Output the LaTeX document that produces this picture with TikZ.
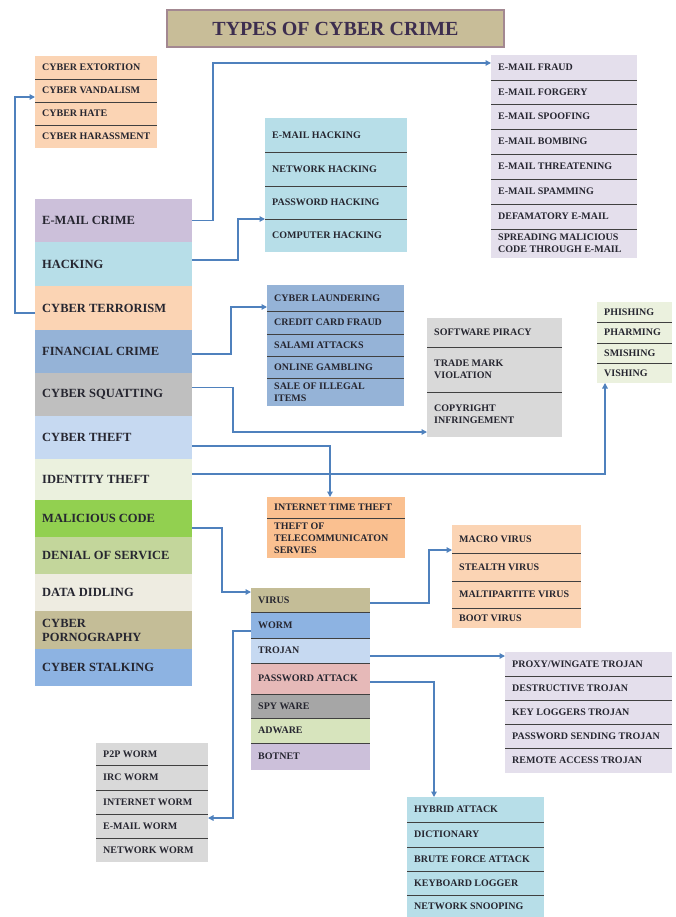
\documentclass[tikz,border=0pt]{standalone}
\usepackage{fontspec}
\setmainfont{Liberation Serif}
\usetikzlibrary{arrows.meta,calc}
\definecolor{txt}{HTML}{262630}
\definecolor{titlefill}{HTML}{C8BD98}
\definecolor{titledraw}{HTML}{A38891}
\definecolor{titletext}{HTML}{3D2E4F}
\definecolor{peach}{HTML}{FBD4B4}
\definecolor{lav}{HTML}{CCC0DA}
\definecolor{aqua}{HTML}{B7DEE8}
\definecolor{blueA}{HTML}{95B3D7}
\definecolor{grayA}{HTML}{BFBFBF}
\definecolor{lblue}{HTML}{C6D9F1}
\definecolor{lgreen}{HTML}{EBF1DE}
\definecolor{greenA}{HTML}{92D050}
\definecolor{olive}{HTML}{C3D69B}
\definecolor{beige}{HTML}{EEECE1}
\definecolor{tan}{HTML}{C4BD97}
\definecolor{blueB}{HTML}{8DB3E2}
\definecolor{lavB}{HTML}{E4DFEC}
\definecolor{grayB}{HTML}{D9D9D9}
\definecolor{orangeA}{HTML}{FAC090}
\definecolor{pinkA}{HTML}{E6B9B8}
\definecolor{grayC}{HTML}{A6A6A6}
\definecolor{greenB}{HTML}{D7E4BD}
\definecolor{arrowc}{HTML}{4F81BD}
\definecolor{sepc}{HTML}{404040}
\tikzset{
  rowbg/.style={anchor=north west, inner sep=0pt, outer sep=0pt, draw=none},
  rowtxt/.style={anchor=west, inner sep=0pt, align=left, text=txt,
    font=\fontsize{10}{12}\selectfont\bfseries},
  bigtxt/.style={anchor=west, inner sep=0pt, align=left, text=txt,
    font=\fontsize{12.5}{14}\selectfont\bfseries},
  sepline/.style={draw=sepc, line width=0.8pt},
  arr/.style={draw=arrowc, line width=1.3pt, -{Triangle[length=5.5pt,width=5.5pt]}}
}
\newcommand\rowbox[7]{%
  \node[rowbg,#6,minimum width=#4pt,minimum height=#5pt] (#1) at (#2,#3) {};
  \node[rowtxt] (#1-t) at ($(#1.west)+(7,0)$) {#7};}
\newcommand\lrow[7]{%
  \node[rowbg,#6,minimum width=#4pt,minimum height=#5pt] (#1) at (#2,#3) {};
  \node[bigtxt] (#1-t) at ($(#1.west)+(7,0)$) {#7};}
\begin{document}
\begin{tikzpicture}[x=1pt,y=-1pt]
\useasboundingbox (0,0) rectangle (676,917);
% title
\node[draw=titledraw, line width=1.5pt, fill=titlefill, minimum width=337pt,
  minimum height=37pt, font=\fontsize{20}{24}\selectfont\bfseries, text=titletext]
  (title) at (335.5,28.5) {TYPES OF CYBER CRIME};
% top-left list
\rowbox{t1}{35}{56}{122}{23}{fill=peach}{CYBER EXTORTION}
\rowbox{t2}{35}{79}{122}{23}{fill=peach}{CYBER VANDALISM}
\rowbox{t3}{35}{102}{122}{23}{fill=peach}{CYBER HATE}
\rowbox{t4}{35}{125}{122}{23}{fill=peach}{CYBER HARASSMENT}
% left column
\lrow{l1}{35}{199}{157}{43}{fill=lav}{E-MAIL CRIME}
\lrow{l2}{35}{242}{157}{44}{fill=aqua}{HACKING}
\lrow{l3}{35}{286}{157}{44}{fill=peach}{CYBER TERRORISM}
\lrow{l4}{35}{330}{157}{43}{fill=blueA}{FINANCIAL CRIME}
\lrow{l5}{35}{373}{157}{43}{fill=grayA}{CYBER SQUATTING}
\lrow{l6}{35}{416}{157}{43}{fill=lblue}{CYBER THEFT}
\lrow{l7}{35}{459}{157}{41}{fill=lgreen}{IDENTITY THEFT}
\lrow{l8}{35}{500}{157}{37}{fill=greenA}{MALICIOUS CODE}
\lrow{l9}{35}{537}{157}{37}{fill=olive}{DENIAL OF SERVICE}
\lrow{l10}{35}{574}{157}{37}{fill=beige}{DATA DIDLING}
\lrow{l11}{35}{611}{157}{38}{fill=tan}{CYBER\\PORNOGRAPHY}
\lrow{l12}{35}{649}{157}{37}{fill=blueB}{CYBER STALKING}
% e-mail list
\rowbox{e1}{491}{55}{146}{25}{fill=lavB}{E-MAIL FRAUD}
\rowbox{e2}{491}{80}{146}{24}{fill=lavB}{E-MAIL FORGERY}
\rowbox{e3}{491}{104}{146}{25}{fill=lavB}{E-MAIL SPOOFING}
\rowbox{e4}{491}{129}{146}{25}{fill=lavB}{E-MAIL BOMBING}
\rowbox{e5}{491}{154}{146}{25}{fill=lavB}{E-MAIL THREATENING}
\rowbox{e6}{491}{179}{146}{25}{fill=lavB}{E-MAIL SPAMMING}
\rowbox{e7}{491}{204}{146}{25}{fill=lavB}{DEFAMATORY E-MAIL}
\rowbox{e8}{491}{229}{146}{29}{fill=lavB}{SPREADING MALICIOUS\\CODE THROUGH E-MAIL}
% hacking list
\rowbox{h1}{265}{118}{142}{34}{fill=aqua}{E-MAIL HACKING}
\rowbox{h2}{265}{152}{142}{34}{fill=aqua}{NETWORK HACKING}
\rowbox{h3}{265}{186}{142}{33}{fill=aqua}{PASSWORD HACKING}
\rowbox{h4}{265}{219}{142}{33}{fill=aqua}{COMPUTER HACKING}
% financial list
\rowbox{f1}{267}{285}{137}{26}{fill=blueA}{CYBER LAUNDERING}
\rowbox{f2}{267}{311}{137}{23}{fill=blueA}{CREDIT CARD FRAUD}
\rowbox{f3}{267}{334}{137}{22}{fill=blueA}{SALAMI ATTACKS}
\rowbox{f4}{267}{356}{137}{22}{fill=blueA}{ONLINE GAMBLING}
\rowbox{f5}{267}{378}{137}{28}{fill=blueA}{SALE OF ILLEGAL\\ITEMS}
% piracy list
\rowbox{p1}{427}{318}{135}{29}{fill=grayB}{SOFTWARE PIRACY}
\rowbox{p2}{427}{347}{135}{45}{fill=grayB}{TRADE MARK\\VIOLATION}
\rowbox{p3}{427}{392}{135}{45}{fill=grayB}{COPYRIGHT\\INFRINGEMENT}
% phishing list
\rowbox{q1}{597}{302}{75}{20}{fill=lgreen}{PHISHING}
\rowbox{q2}{597}{322}{75}{21}{fill=lgreen}{PHARMING}
\rowbox{q3}{597}{343}{75}{20}{fill=lgreen}{SMISHING}
\rowbox{q4}{597}{363}{75}{20}{fill=lgreen}{VISHING}
% internet time theft
\rowbox{i1}{267}{497}{138}{21}{fill=orangeA}{INTERNET TIME THEFT}
\rowbox{i2}{267}{518}{138}{40}{fill=orangeA}{THEFT OF\\TELECOMMUNICATON\\SERVIES}
% malicious code list
\rowbox{m1}{251}{588}{119}{24}{fill=tan}{VIRUS}
\rowbox{m2}{251}{612}{119}{26}{fill=blueB}{WORM}
\rowbox{m3}{251}{638}{119}{25}{fill=lblue}{TROJAN}
\rowbox{m4}{251}{663}{119}{31}{fill=pinkA}{PASSWORD ATTACK}
\rowbox{m5}{251}{694}{119}{24}{fill=grayC}{SPY WARE}
\rowbox{m6}{251}{718}{119}{25}{fill=greenB}{ADWARE}
\rowbox{m7}{251}{743}{119}{27}{fill=lav}{BOTNET}
% virus list
\rowbox{v1}{452}{525}{129}{28}{fill=peach}{MACRO VIRUS}
\rowbox{v2}{452}{553}{129}{28}{fill=peach}{STEALTH VIRUS}
\rowbox{v3}{452}{581}{129}{27}{fill=peach}{MALTIPARTITE VIRUS}
\rowbox{v4}{452}{608}{129}{20}{fill=peach}{BOOT VIRUS}
% trojan list
\rowbox{r1}{505}{652}{167}{24}{fill=lavB}{PROXY/WINGATE TROJAN}
\rowbox{r2}{505}{676}{167}{24}{fill=lavB}{DESTRUCTIVE TROJAN}
\rowbox{r3}{505}{700}{167}{24}{fill=lavB}{KEY LOGGERS TROJAN}
\rowbox{r4}{505}{724}{167}{24}{fill=lavB}{PASSWORD SENDING TROJAN}
\rowbox{r5}{505}{748}{167}{25}{fill=lavB}{REMOTE ACCESS TROJAN}
% worm list
\rowbox{w1}{96}{743}{112}{22}{fill=grayB}{P2P WORM}
\rowbox{w2}{96}{765}{112}{25}{fill=grayB}{IRC WORM}
\rowbox{w3}{96}{790}{112}{24}{fill=grayB}{INTERNET WORM}
\rowbox{w4}{96}{814}{112}{24}{fill=grayB}{E-MAIL WORM}
\rowbox{w5}{96}{838}{112}{24}{fill=grayB}{NETWORK WORM}
% password attack list
\rowbox{k1}{407}{797}{137}{25}{fill=aqua}{HYBRID ATTACK}
\rowbox{k2}{407}{822}{137}{25}{fill=aqua}{DICTIONARY}
\rowbox{k3}{407}{847}{137}{24}{fill=aqua}{BRUTE FORCE ATTACK}
\rowbox{k4}{407}{871}{137}{24}{fill=aqua}{KEYBOARD LOGGER}
\rowbox{k5}{407}{895}{137}{22}{fill=aqua}{NETWORK SNOOPING}
% separators
\foreach \n in {t1,t2,t3,e1,e2,e3,e4,e5,e6,e7,h1,h2,h3,f1,f2,f3,f4,p1,p2,q1,q2,q3,i1,
  m1,m2,m3,m4,m5,m6,v1,v2,v3,r1,r2,r3,r4,w1,w2,w3,w4,k1,k2,k3,k4}
  \draw[sepline] (\n.south west) -- (\n.south east);
% connectors
\draw[arr] ($(l3.south west)+(0,-17)$) -- ++(-20,0) |- ($(t2.south west)+(0,-5)$);
\draw[arr] (l1.east) -- ++(21,0) |- ($(e1.north west)+(0,8)$);
\draw[arr] ($(l2.east)+(0,-4)$) -- ++(46,0) |- (h3.south west);
\draw[arr] ($(l4.east)+(0,2.5)$) -- ++(39,0) |- ($(f1.south west)+(0,-4)$);
\draw[arr] ($(l5.east)+(0,-7)$) -- ++(41,0) |- ($(p3.south west)+(0,-5)$);
\draw[arr] ($(l6.east)+(0,8.5)$) -| ($(i1.north west)+(63,0)$);
\draw[arr] ($(l7.east)+(0,-5.5)$) -| ($(q4.south west)+(8,0)$);
\draw[arr] ($(l8.east)+(0,9.5)$) -- ++(30,0) |- ($(m1.north west)+(0,4)$);
\draw[arr] ($(m1.east)+(0,3)$) -- ++(59,0) |- ($(v1.south west)+(0,-3)$);
\draw[arr] ($(m2.west)+(0,6)$) -- ++(-18,0) |- ($(w4.north east)+(0,4)$);
\draw[arr] ($(m3.east)+(0,5.5)$) -- ($(r1.north west)+(0,4)$);
\draw[arr] ($(m4.east)+(0,3.5)$) -| ($(k1.north west)+(27,0)$);
\end{tikzpicture}
\end{document}
